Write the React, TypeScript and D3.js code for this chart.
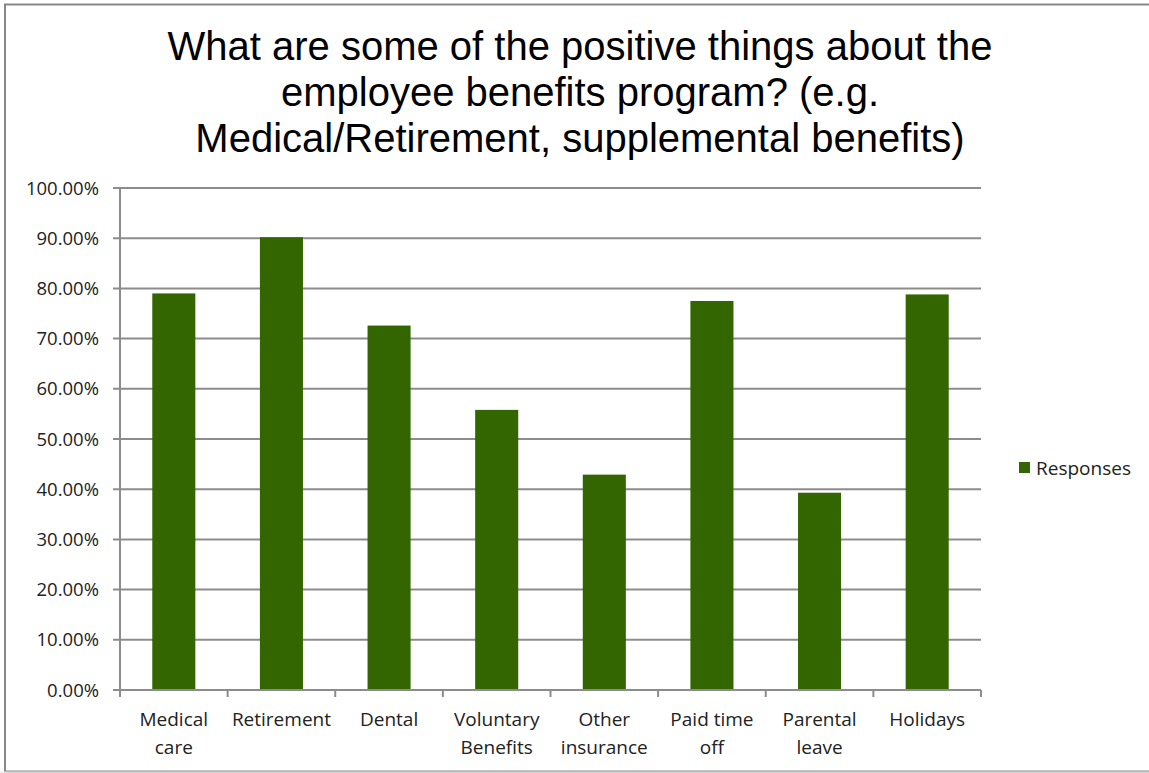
import React from "react";
import * as d3 from "d3";

const categories = [
  ["Medical", "care"],
  ["Retirement"],
  ["Dental"],
  ["Voluntary", "Benefits"],
  ["Other", "insurance"],
  ["Paid time", "off"],
  ["Parental", "leave"],
  ["Holidays"],
];
const values = [79.0, 90.2, 72.6, 55.8, 42.9, 77.5, 39.3, 78.8];
const yTicks = [0, 10, 20, 30, 40, 50, 60, 70, 80, 90, 100];
const titleLines = [
  "What are some of the positive things about the",
  "employee benefits program? (e.g.",
  "Medical/Retirement, supplemental benefits)",
];
const seriesName = "Responses";

export default function App() {
  const W = 1149, H = 773;
  const left = 120, right = 981, top = 188, bottom = 690;
  const names = categories.map((c) => c.join(" "));
  const x = d3.scaleBand().domain(names).range([left, right]).paddingInner(0.6).paddingOuter(0.3);
  const xOuter = d3.scaleBand().domain(names).range([left, right]);
  const y = d3.scaleLinear().domain([0, 100]).range([bottom, top]);
  const color = "#336600";
  const grid = "#8c8c8c";
  const labelFont = "'Open Sans', 'Liberation Sans', sans-serif";
  return (
    <svg width={W} height={H} style={{ position: "absolute", left: 0, top: 0, background: "#fff" }}>
      <rect x={5} y={4.5} width={W + 10} height={767} fill="#fff" stroke="#888" strokeWidth={2} />
      <line x1={0} x2={W} y1={772} y2={772} stroke="#e6e6e6" strokeWidth={1} />
      {titleLines.map((t, i) => (
        <text key={i} x={580} y={60 + i * 46} textAnchor="middle" fontFamily="'Liberation Sans', Arial, sans-serif"
          fontSize={40} fill="#000">
          {t}
        </text>
      ))}
      {yTicks.map((t) => (
        <g key={t}>
          <line x1={113} x2={right} y1={y(t)} y2={y(t)} stroke={grid} strokeWidth={2} />
          <text x={99} y={y(t)} dy="0.36em" textAnchor="end" fontFamily={labelFont} fontSize={18.5} fill="#222">
            {t.toFixed(2)}%
          </text>
        </g>
      ))}
      {names.map((n, i) => (
        <rect key={n} x={x(n)} y={y(values[i])} width={x.bandwidth()} height={bottom - y(values[i])} fill={color} />
      ))}
      <line x1={left} x2={left} y1={top} y2={bottom} stroke={grid} strokeWidth={2} />
      <line x1={left} x2={right} y1={bottom} y2={bottom} stroke={grid} strokeWidth={2} />
      {[...names.map((n) => xOuter(n)!), right].map((px, i) => (
        <line key={i} x1={px} x2={px} y1={bottom} y2={bottom + 7} stroke={grid} strokeWidth={2} />
      ))}
      {categories.map((c, i) => (
        <text key={i} textAnchor="middle" fontFamily={labelFont} fontSize={19} fill="#222">
          {c.map((l, j) => (
            <tspan key={j} x={xOuter(names[i])! + xOuter.bandwidth() / 2} y={726 + j * 28}>
              {l}
            </tspan>
          ))}
        </text>
      ))}
      <rect x={1019} y={462} width={11} height={11} fill={color} />
      <text x={1036} y={468} dy="0.36em" fontFamily={labelFont} fontSize={19} fill="#222">
        {seriesName}
      </text>
    </svg>
  );
}
